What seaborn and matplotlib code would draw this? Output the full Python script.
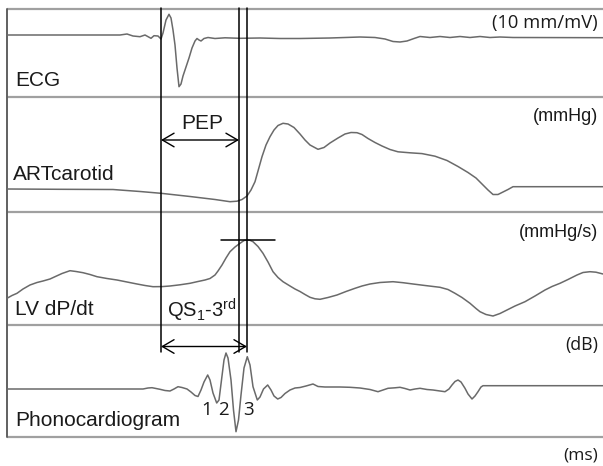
import matplotlib
matplotlib.use("Agg")
import matplotlib.pyplot as plt
import seaborn as sns
import numpy as np
import pandas as pd

# ---------------- data (time in ms-scale units, amplitude in arbitrary units, up = positive) -------------
ecg_t = [7, 60, 120, 127, 133, 140, 145, 151, 154, 158, 161, 163, 166, 169, 171, 173, 175, 177, 179,
         181, 183, 186, 189, 192, 195, 197, 199, 201, 204, 208, 215, 225, 240, 260, 280, 300, 330, 360,
         375, 385, 393, 400, 407, 414, 420, 430, 440, 450, 460, 470, 480, 490, 500, 513, 603]
ecg_v = [2, 2, 2, 3, 1, 0.3, 2, -1.3, 1.3, 1, -2, 4, 17, 22.7, 19, 7, -8, -31, -49.7,
         -47, -39, -30, -21, -11, -4, -1.5, -3, -4, -1.5, -0.5, -1.5, -0.8, -1.3, -1, -1.5, -1.5, -1, 0,
         -0.5, -2, -4.5, -5, -4, -1.5, 0.5, -0.5, 0.5, -0.5, 0.5, -0.5, 0.5, -0.5, 0, -0.5, -0.7]

art_t = [7, 60, 113, 140, 161, 190, 215, 230, 237, 242, 247, 251, 255, 258, 262, 266, 270, 274, 278,
         283, 288, 294, 300, 305, 310, 318, 324, 330, 338, 345, 351, 357, 362, 368, 375, 382, 390, 398,
         410, 422, 435, 447, 458, 468, 476, 482, 488, 493, 498, 503, 508, 513, 603]
art_v = [1, 0.7, 0.5, -1.5, -3.3, -6.5, -9.5, -11.7, -11.2, -9.5, -6, 0, 8.3, 19, 33.3, 45, 53.3, 60, 64.5,
         66.7, 66, 62.5, 56, 50, 45, 40.7, 42.5, 47, 52, 56, 57.5, 57.3, 55.5, 51.5, 47.5, 44, 40.5, 38.2,
         37.2, 36.4, 33.8, 29.5, 23.5, 17.5, 12, 6, 0, -4.5, -4.5, -2, 0.5, 3.3, 3.3]

lv_t = [7, 12, 17, 23, 30, 37, 43, 50, 55, 62, 70, 76, 83, 90, 97, 107, 117, 127, 137, 145, 153, 162,
        170, 180, 190, 198, 205, 210, 215, 218, 222, 226, 230, 235, 240, 244, 247, 250, 253, 258, 263,
        268, 273, 278, 283, 290, 295, 300, 305, 310, 315, 320, 328, 337, 346, 355, 362, 370, 380, 393,
        403, 413, 425, 440, 448, 455, 462, 470, 476, 480, 486, 493, 500, 507, 515, 525, 535, 545, 552,
        560, 568, 577, 583, 590, 596, 603]
lv_v = [-13.3, -10.5, -8.3, -4, 0, 2.5, 4, 6, 8.3, 11.5, 14.3, 13.5, 12.3, 10.5, 8.3, 6.5, 5, 3, 1, -0.5,
        -1.7, -1.6, -1, 0.2, 1.7, 3.5, 5, 6.5, 10, 14, 20, 27, 33.3, 38, 41.7, 44.5, 45, 44.7, 43.3, 38.5,
        31.7, 23, 13.3, 7.5, 3.3, -1, -4, -6.5, -9.5, -12.3, -13.8, -14.3, -12.5, -10, -6.5, -3.3, -1, 1,
        2.5, 3.3, 2.3, 1, -0.5, -2.3, -4.5, -8.3, -12.5, -18.3, -23.5, -26.7, -29.5, -31, -28.5, -25, -21,
        -16.7, -11, -5, -1.5, 1.7, 5.5, 10, 12.5, 13.3, 12.8, 11]

pcg_t = [7, 143, 148, 152, 156, 160, 165, 170, 174, 178, 182, 187, 191, 195, 198, 201, 204, 207.7, 210,
         213, 216.7, 219, 221.5, 224, 226, 228, 231, 233.5, 236, 238.5, 241, 244, 247.3, 250, 253, 257.3,
         260, 263.5, 267.7, 271, 274, 277.7, 281, 285, 290, 295, 300, 306, 313, 318, 325, 340, 350, 360,
         370, 378, 383, 388, 395, 400, 405, 410, 415, 420, 427, 433, 440, 445, 449, 452, 455, 458, 461,
         465, 468, 472, 475, 478, 481, 483, 490, 603]
pcg_v = [0, 0, 1, 1.3, 0.5, -0.3, -1.5, -2, 0, 2.3, 1.5, 0, -3, -6.5, -7.5, -1, 7, 14, 9,
         -4, -14, -11, 9, 29, 36, 31, 9, -21, -42.7, -31, -6, 21, 32.3, 24, 2.3, -11,
         -8, 0, 4, -1, -7, -10, -8.5, -4.5, -1, 1, 1.5, 3, 5, 2.5, 2, 2, 1.7, 1,
         -0.5, -2.7, -1, 0.7, 1.2, 1.7, 0.5, -1, 0, 0.7, -0.5, -1, -2, -2.7, 0, 4, 7.5, 9, 7,
         0.7, -5, -10, -7, -2.7, 2, 3.3, 3.3, 3.3]

trace_names = ["ECG", "ARTcarotid", "LV dP/dt", "Phonocardiogram"]
trace_units = ["(10 mm/mV)", "(mmHg)", "(mmHg/s)", "(dB)"]
time_unit = "(ms)"
pep_label = "PEP"
qs_label = r"QS$_\mathregular{1}$-3$^\mathregular{rd}$"
sound_labels = ["1", "2", "3"]
q_onset = 161          # ms (Q-wave onset)
art_upstroke = 239     # ms (carotid upstroke)
dpdt_max = 247         # ms (peak LV dP/dt)

# ---------------- layout ----------------
W, H = 603, 466
sns.set_theme(style="white")
plt.rcParams["font.family"] = ["Liberation Sans", "DejaVu Sans"]
plt.rcParams["mathtext.fontset"] = "custom"
plt.rcParams["mathtext.rm"] = "Liberation Sans"
plt.rcParams["mathtext.it"] = "Liberation Sans:italic"

fig = plt.figure(figsize=(W / 100, H / 100), dpi=100)
ax = fig.add_axes([0, 0, 1, 1])

bounds = [9, 97, 212, 325, 437]
baselines = [37, 190, 285, 389]
trace_color = "#6a6a6a"
sep_color = "#a0a0a0"

# separators and left border
for yb in bounds:
    ax.plot([7, W], [yb, yb], color=sep_color, lw=1.6, solid_capstyle="butt", zorder=1)
ax.plot([7, 7], [bounds[0], bounds[-1]], color="#606060", lw=1.4, zorder=1)

traces = [(ecg_t, ecg_v), (art_t, art_v), (lv_t, lv_v), (pcg_t, pcg_v)]
for (t, v), base in zip(traces, baselines):
    df = pd.DataFrame({"t": t, "y": base - np.asarray(v, dtype=float)})
    sns.lineplot(data=df, x="t", y="y", ax=ax, sort=False, estimator=None,
                 color=trace_color, lw=1.1, zorder=3)
ax.set_xlim(0, W)
ax.set_ylim(H, 0)
ax.axis("off")

# vertical markers
for xv in (q_onset, art_upstroke, dpdt_max):
    ax.plot([xv, xv], [8, 352], color="black", lw=1.1, zorder=4)

# tangent at dP/dt max
ax.plot([221, 275], [baselines[2] - max(lv_v), baselines[2] - max(lv_v)], color="black", lw=1.1, zorder=4)

arrow_kw = dict(arrowstyle="<->,head_length=0.6,head_width=0.35", color="black", lw=1.0,
                shrinkA=0, shrinkB=0, mutation_scale=14)
ax.annotate("", xy=(q_onset, 140), xytext=(art_upstroke, 140), arrowprops=arrow_kw, zorder=5)
ax.annotate("", xy=(q_onset, 346.5), xytext=(dpdt_max, 346.5), arrowprops=arrow_kw, zorder=5)

lab_fs = 15
label_y = [86, 180, 315, 426.5]
label_x = [15, 13, 15, 15]
for name, lx, ly in zip(trace_names, label_x, label_y):
    ax.text(lx, ly, name, fontsize=lab_fs, color="#1a1a1a", ha="left", va="baseline")

unit_y = [28, 121, 237, 350]
unit_fonts = ["Open Sans", "Liberation Sans", "Liberation Sans", "Open Sans"]
unit_fs = [13.2, 13.0, 13.0, 12.8]
for u, uy, uf, fs in zip(trace_units, unit_y, unit_fonts, unit_fs):
    ax.text(598, uy, u, fontsize=fs, family=uf, color="#1a1a1a", ha="right", va="baseline")
ax.text(598, 460, time_unit, fontsize=12.5, family="Open Sans", color="#1a1a1a", ha="right", va="baseline")

ax.text((q_onset + art_upstroke) / 2 + 2, 129, pep_label, fontsize=lab_fs, color="#1a1a1a",
        ha="center", va="baseline")
ax.text(167, 318, qs_label, fontsize=14.5, color="#1a1a1a", ha="left", va="baseline")

for s, sx in zip(sound_labels, [207, 223, 248]):
    ax.text(sx, 415, s, fontsize=13.5, family="Open Sans", color="#1a1a1a", ha="center", va="baseline")

fig.savefig("out.png", dpi=100)
